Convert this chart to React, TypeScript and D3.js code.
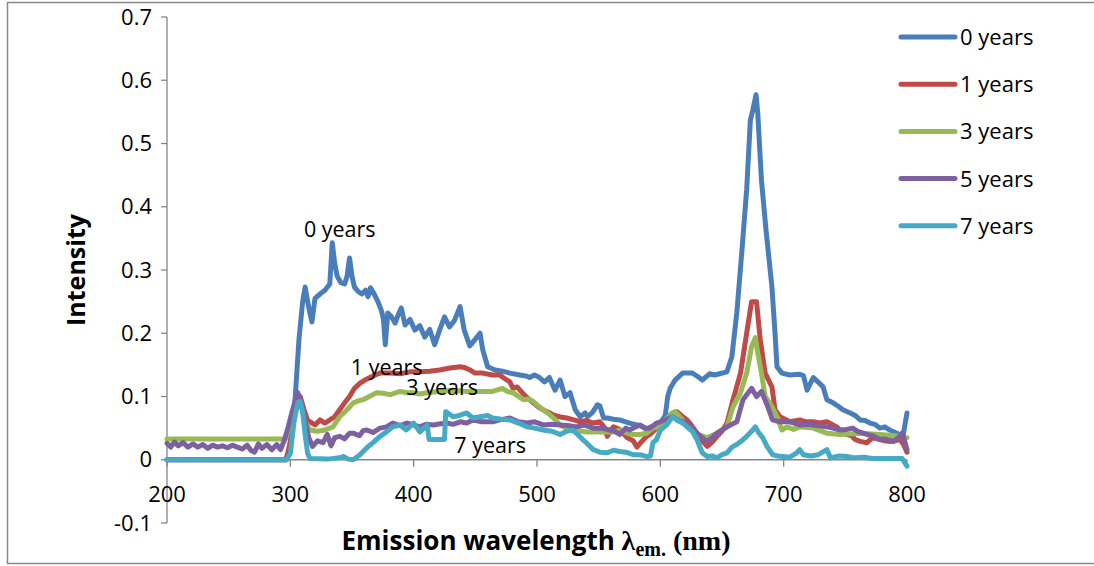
import React from 'react';
import * as d3 from 'd3';

// axis ticks
const xTicks = [200, 300, 400, 500, 600, 700, 800];
const yTicks = [-0.1, 0, 0.1, 0.2, 0.3, 0.4, 0.5, 0.6, 0.7];

const seriesNames = ['0 years', '1 years', '3 years', '5 years', '7 years'];
const seriesColors = ['#4A7EBB', '#BE4B48', '#98B954', '#7D60A0', '#46AAC5'];

// [wavelength nm, intensity]
const years0: [number, number][] = [
  [200, 0], [296, 0], [300, 0.02], [304, 0.1], [307, 0.19], [310, 0.25], [312, 0.273], [315, 0.24],
  [317.5, 0.218], [320, 0.255], [324, 0.262], [328, 0.268], [332, 0.278], [334, 0.343], [336, 0.31],
  [338, 0.29], [341, 0.28], [344, 0.278], [346, 0.29], [348, 0.319], [350, 0.29], [352, 0.273],
  [355, 0.266], [358, 0.262], [361, 0.268], [363, 0.258], [365, 0.272], [368, 0.262], [371, 0.25],
  [374, 0.235], [375.5, 0.222], [377, 0.182], [379, 0.232], [382, 0.226], [385, 0.216], [388, 0.232],
  [390, 0.24], [393, 0.213], [397, 0.222], [401, 0.205], [405, 0.212], [409, 0.194], [413, 0.206],
  [417, 0.182], [421, 0.205], [425, 0.226], [429, 0.21], [433, 0.22], [437.6, 0.242], [441, 0.205],
  [445.5, 0.18], [449.7, 0.19], [453.8, 0.2], [456, 0.174], [460, 0.147], [466, 0.142], [472, 0.14],
  [478, 0.137], [486, 0.134], [492, 0.132], [494, 0.13], [498, 0.134], [502, 0.13], [506, 0.123],
  [510, 0.13], [514.6, 0.11], [518.7, 0.126], [522.7, 0.1], [526.8, 0.106], [531, 0.079], [535, 0.068],
  [539, 0.074], [541, 0.068], [545, 0.075], [549, 0.087], [551, 0.085], [554, 0.066], [557, 0.066],
  [562, 0.064], [567, 0.063], [575, 0.058], [583.5, 0.054], [589, 0.048], [592, 0.052], [596, 0.053],
  [600, 0.058], [604, 0.07], [606, 0.1], [608, 0.113], [612, 0.126], [618, 0.137], [626, 0.137],
  [630, 0.132], [634, 0.126], [640, 0.136], [644, 0.134], [648, 0.136], [654, 0.139], [658, 0.163],
  [662, 0.232], [666, 0.327], [670, 0.427], [673, 0.537], [675, 0.553], [677.6, 0.577], [679, 0.548],
  [682, 0.442], [685.7, 0.363], [690.5, 0.273], [693, 0.2], [694.6, 0.147], [698.6, 0.137], [705, 0.134],
  [713, 0.135], [716, 0.133], [719, 0.11], [724, 0.13], [729.5, 0.12], [732, 0.115], [735, 0.095],
  [740, 0.09], [744, 0.085], [748, 0.079], [754, 0.074], [758, 0.07], [762, 0.063], [766, 0.062],
  [770, 0.058], [774, 0.056], [778, 0.05], [782, 0.052], [786, 0.047], [792, 0.042], [795, 0.036],
  [797, 0.04], [800, 0.074],
];

const years1: [number, number][] = [
  [200, 0], [297, 0], [300, 0.03], [303, 0.07], [306, 0.095], [308, 0.1], [311, 0.08], [314, 0.062],
  [316, 0.06], [320, 0.055], [324, 0.063], [328, 0.058], [332, 0.063], [336, 0.068], [340, 0.079],
  [344, 0.09], [348, 0.1], [352, 0.113], [356.5, 0.121], [360.5, 0.126], [364.6, 0.13], [368.7, 0.134],
  [372.7, 0.137], [381, 0.137], [389, 0.136], [397, 0.139], [405, 0.139], [413, 0.14], [421, 0.142],
  [429.5, 0.145], [437.6, 0.147], [441, 0.146], [445.7, 0.142], [449.7, 0.137], [456, 0.137], [464, 0.134],
  [470, 0.134], [472.5, 0.13], [478, 0.123], [480.5, 0.113], [484, 0.115], [488, 0.106], [492, 0.098],
  [497, 0.09], [502, 0.082], [506, 0.078], [510.5, 0.074], [513, 0.071], [518, 0.068], [524, 0.066],
  [530, 0.063], [535, 0.06], [540, 0.062], [545.6, 0.058], [551, 0.06], [555, 0.05], [557, 0.037],
  [560, 0.047], [562, 0.052], [567, 0.048], [573, 0.035], [578, 0.03], [581, 0.02], [584, 0.027],
  [589, 0.037], [591.6, 0.04], [597, 0.05], [600, 0.055], [605, 0.065], [610, 0.074], [613.5, 0.076],
  [617, 0.07], [621.6, 0.063], [625, 0.055], [629.7, 0.042], [634, 0.03], [638, 0.021], [642, 0.028],
  [646, 0.037], [650, 0.045], [654, 0.058], [659, 0.095], [665, 0.137], [670, 0.2], [674, 0.25],
  [678, 0.25], [681, 0.19], [685, 0.137], [690.5, 0.115], [693, 0.079], [697, 0.068], [705, 0.06],
  [713, 0.063], [718, 0.06], [724, 0.06], [729, 0.058], [735, 0.06], [743, 0.052], [747, 0.045],
  [751, 0.04], [755, 0.038], [758, 0.032], [762, 0.029], [767.6, 0.027], [772, 0.035], [778, 0.032],
  [782, 0.03], [786, 0.029], [790, 0.03], [794, 0.032], [797, 0.025], [800, 0.012],
];

const years3: [number, number][] = [
  [200, 0.033], [296, 0.033], [299, 0.05], [303, 0.08], [306, 0.09], [309, 0.085], [312, 0.06],
  [316, 0.047], [322, 0.045], [328, 0.047], [334.6, 0.052], [340, 0.068], [346, 0.079], [351, 0.09],
  [355, 0.093], [359, 0.095], [364, 0.1], [370, 0.106], [375, 0.105], [381, 0.103], [389, 0.108],
  [395, 0.106], [400, 0.106], [405, 0.104], [411, 0.106], [421, 0.108], [432, 0.11], [443, 0.108],
  [454, 0.108], [464, 0.108], [472, 0.113], [476, 0.108], [480.5, 0.106], [489, 0.095], [493, 0.096],
  [497, 0.092], [501, 0.085], [505, 0.079], [510.5, 0.071], [514, 0.065], [518.7, 0.055], [524, 0.05],
  [529, 0.047], [540.5, 0.044], [551, 0.044], [562, 0.044], [567, 0.047], [573, 0.042], [578, 0.04],
  [583.5, 0.04], [589, 0.042], [594, 0.05], [600, 0.052], [605, 0.065], [610, 0.074], [612, 0.076],
  [617, 0.065], [621.6, 0.052], [626, 0.045], [630, 0.04], [638, 0.035], [646, 0.042], [654, 0.052],
  [659, 0.084], [665, 0.106], [670, 0.137], [674, 0.179], [677, 0.193], [679, 0.169], [682, 0.137],
  [685, 0.1], [690.5, 0.084], [694.6, 0.068], [698.6, 0.047], [702.7, 0.052], [708, 0.048], [713, 0.052],
  [724, 0.05], [735, 0.042], [745.7, 0.04], [762, 0.042], [778, 0.04], [794, 0.037], [800, 0.035],
];

const years5: [number, number][] = [
  [200, 0.026], [203, 0.02], [206, 0.028], [209, 0.022], [213, 0.027], [217, 0.02], [221, 0.025],
  [225, 0.02], [229, 0.024], [233, 0.018], [237, 0.023], [241, 0.02], [245, 0.022], [249, 0.019],
  [253, 0.023], [257, 0.02], [261, 0.017], [265, 0.023], [268, 0.015], [271, 0.012], [274, 0.025],
  [277, 0.018], [281, 0.024], [285, 0.016], [289, 0.024], [292, 0.016], [295, 0.03], [298, 0.05],
  [302, 0.08], [306, 0.106], [309, 0.09], [312, 0.06], [315, 0.035], [318, 0.021], [322, 0.03],
  [326.5, 0.027], [330, 0.04], [333, 0.022], [336, 0.035], [340, 0.037], [344, 0.033], [348, 0.042],
  [351, 0.042], [356, 0.038], [359, 0.046], [362, 0.047], [367, 0.043], [372.7, 0.05], [378, 0.052],
  [383, 0.058], [389, 0.054], [394.6, 0.058], [400, 0.055], [405, 0.052], [410, 0.056], [416, 0.055],
  [422, 0.057], [427, 0.058], [432, 0.056], [437.6, 0.06], [443, 0.058], [448, 0.063], [455, 0.06],
  [464, 0.06], [470, 0.063], [478, 0.066], [485, 0.06], [492, 0.058], [498, 0.06], [505, 0.055],
  [512, 0.056], [518.7, 0.055], [525, 0.054], [532, 0.052], [538, 0.055], [545.6, 0.05], [552, 0.05],
  [559, 0.047], [563, 0.045], [567, 0.04], [572, 0.05], [575, 0.047], [580, 0.052], [583.5, 0.055],
  [588, 0.05], [591.6, 0.05], [597, 0.058], [600, 0.06], [605, 0.064], [610, 0.068], [615, 0.062],
  [621.6, 0.058], [626, 0.05], [629.7, 0.042], [634, 0.035], [638, 0.029], [642, 0.035], [646, 0.042],
  [654, 0.052], [662, 0.06], [667, 0.095], [674, 0.113], [678, 0.1], [682, 0.108], [686.5, 0.087],
  [691, 0.063], [697, 0.06], [705, 0.06], [713, 0.055], [720, 0.056], [727, 0.054], [735, 0.052],
  [740, 0.05], [745.7, 0.047], [751, 0.048], [756, 0.05], [760, 0.045], [767.6, 0.04], [772, 0.038],
  [778, 0.032], [782, 0.033], [789, 0.029], [793, 0.035], [796, 0.042], [798, 0.03], [800, 0.016],
];

const years7: [number, number][] = [
  [200, 0], [297, 0], [300, 0.01], [303, 0.06], [306, 0.09], [308, 0.092], [310, 0.075], [312, 0.04],
  [314, 0.01], [316, 0.002], [330, 0.001], [340, 0.003], [343, 0.005], [347, 0.001], [351, 0],
  [356.5, 0.008], [362, 0.019], [367, 0.027], [372.7, 0.037], [378, 0.044], [383, 0.052], [389, 0.055],
  [394, 0.047], [400, 0.058], [405, 0.044], [411, 0.055], [412.5, 0.032], [420, 0.032], [425, 0.032],
  [426, 0.076], [432, 0.068], [437, 0.07], [443, 0.074], [448, 0.066], [454, 0.068], [460, 0.07],
  [464, 0.066], [471, 0.064], [478, 0.063], [485, 0.058], [492, 0.052], [498, 0.05], [505, 0.047],
  [512, 0.045], [518.7, 0.04], [524, 0.045], [529, 0.047], [533, 0.04], [537, 0.032], [541, 0.025],
  [545.6, 0.016], [551, 0.012], [557, 0.011], [562, 0.015], [567, 0.013], [572, 0.012], [578, 0.008],
  [583.5, 0.008], [589, 0.005], [592, 0.006], [594, 0.027], [597, 0.032], [600, 0.047], [605, 0.055],
  [610, 0.068], [614, 0.062], [618, 0.058], [622, 0.052], [626, 0.045], [629.7, 0.032], [634, 0.011],
  [638, 0.005], [642, 0.006], [646, 0.003], [650, 0.008], [654, 0.011], [658, 0.02], [662, 0.024],
  [666, 0.03], [670, 0.037], [674, 0.045], [677, 0.052], [680, 0.042], [683, 0.035], [686.5, 0.021],
  [691, 0.008], [695, 0.006], [699.5, 0.005], [705, 0.004], [710, 0.01], [713, 0.016], [716, 0.008],
  [722, 0.006], [728, 0.008], [735, 0.016], [738, 0.003], [745, 0.006], [751, 0.005], [758, 0.003],
  [765, 0.004], [772, 0.002], [780, 0.002], [790, 0.002], [796, 0.002], [800, -0.01],
];

const allSeries = [years0, years1, years3, years5, years7];

// in-plot labels: [text, wavelength, intensity]
const notes: [string, number, number][] = [
  ['0 years', 311, 0.352],
  ['1 years', 349, 0.134],
  ['3 years', 394, 0.102],
  ['7 years', 433, 0.01],
];

const W = 1094;
const H = 566;
const FONT = "'Open Sans', 'Liberation Sans', sans-serif";
const SERIF = "'Liberation Serif', 'DejaVu Serif', serif";
const AXIS = '#868686';

export default function App() {
  const x = d3.scaleLinear().domain([200, 800]).range([167, 907]);
  const y = d3.scaleLinear().domain([-0.1, 0.7]).range([523, 17]);
  const line = d3.line<[number, number]>().x(d => x(d[0])).y(d => y(d[1]));
  // excel style: plain hyphen for negatives
  const fmt = (t: number) => (t === 0 ? '0' : d3.format('.1~f')(t).replace('\u2212', '-'));

  return (
    <svg width={W} height={H} style={{ position: 'absolute', left: 0, top: 0, background: '#fff' }}
      fontFamily={FONT}>
      <rect x={7.5} y={2.5} width={1100} height={561} fill="#fff" stroke="#898989" strokeWidth={1.5} />

      {/* y axis */}
      <line x1={x(200)} x2={x(200)} y1={y(0.7)} y2={y(-0.1)} stroke={AXIS} strokeWidth={1.3} />
      {yTicks.map(t => (
        <g key={t}>
          <line x1={x(200) - 6} x2={x(200)} y1={y(t)} y2={y(t)} stroke={AXIS} strokeWidth={1.3} />
          <text x={152} y={y(t) + 7.5} fontSize={22} textAnchor="end" fill="#000">{fmt(t)}</text>
        </g>
      ))}

      {/* x axis sits at zero */}
      <line x1={x(200)} x2={x(800)} y1={y(0)} y2={y(0)} stroke={AXIS} strokeWidth={1.3} />
      {xTicks.map(t => (
        <g key={t}>
          <line x1={x(t)} x2={x(t)} y1={y(0)} y2={y(0) + 7} stroke={AXIS} strokeWidth={1.3} />
          <text x={x(t)} y={y(0) + 42} fontSize={22} textAnchor="middle" fill="#000">{t}</text>
        </g>
      ))}

      {/* series */}
      {allSeries.map((s, i) => (
        <path key={seriesNames[i]} d={line(s) || ''} fill="none" stroke={seriesColors[i]}
          strokeWidth={5} strokeLinejoin="round" strokeLinecap="round" />
      ))}

      {notes.map(([t, wl, v]) => (
        <text key={t} x={x(wl)} y={y(v)} fontSize={21.5} fill="#000">{t}</text>
      ))}

      {/* legend */}
      {seriesNames.map((n, i) => (
        <g key={n} transform={`translate(901, ${37 + i * 47.2})`}>
          <line x1={0} x2={54} y1={0} y2={0} stroke={seriesColors[i]} strokeWidth={5} strokeLinecap="round" />
          <text x={59} y={8} fontSize={22} fill="#000">{n}</text>
        </g>
      ))}

      {/* axis titles */}
      <text transform="translate(85, 270) rotate(-90)" textAnchor="middle" fontSize={25} fontWeight="bold"
        fill="#000">Intensity</text>
      <text x={536} y={550} textAnchor="middle" fontSize={26} fontWeight="bold" fill="#000">
        Emission wavelength{' '}
        <tspan fontFamily={SERIF} fontSize={28}>λ</tspan>
        <tspan fontFamily={SERIF} fontSize={20} dy={6}>em.</tspan>
        <tspan fontFamily={SERIF} fontSize={28} dy={-6}> (nm)</tspan>
      </text>
    </svg>
  );
}
